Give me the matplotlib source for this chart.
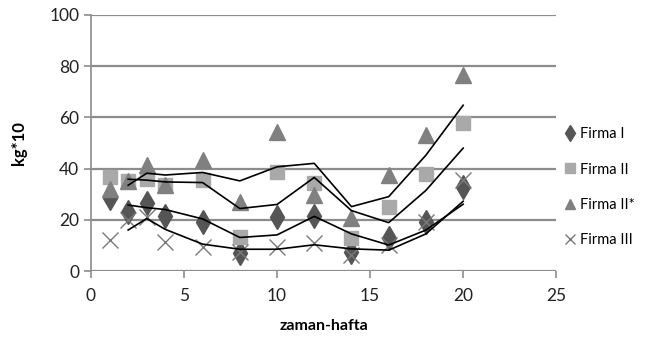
import numpy as np
import pandas as pd
import matplotlib.pyplot as plt

# weeks
weeks = [1, 2, 3, 4, 6, 8, 10, 12, 14, 16, 18, 20]

# values (kg*10)
firma_1 = [28.5, 23, 26.5, 21.5, 19.2, 7, 21.2, 21.5, 7.5, 12.8, 19.2, 33]
firma_2 = [36.7, 35, 36, 33.6, 35.5, 13.3, 38.7, 34.4, 12.8, 25, 38, 58]
firma_2s = [32, 35, 41.4, 33.6, 43.4, 27, 54.4, 29.7, 20.6, 37.5, 53, 76.5]
firma_3 = [12, 20, 21, 11.5, 9.5, 7.5, 9.5, 11, 6.3, 10, 19, 35.5]

labels = ["Firma I", "Firma II", "Firma II*", "Firma III"]

plt.rcParams['font.family'] = ['Lato', 'DejaVu Sans']

fig = plt.figure(figsize=(6.59, 3.63), dpi=100)
ax = fig.add_axes([0.138, 0.2534, 0.706, 0.7053])

series = [firma_1, firma_2, firma_2s, firma_3]
styles = [
    dict(marker='d', color='#555555', markersize=12, linestyle='none'),
    dict(marker='s', color='#a9a9a9', markersize=10, linestyle='none'),
    dict(marker='^', color='#808080', markersize=11, linestyle='none'),
    dict(marker='x', color='#7a7a7a', markersize=12, markeredgewidth=1.0, linestyle='none'),
]

for vals, lab, st in zip(series, labels, styles):
    ax.plot(weeks, vals, label=lab, **st)

# 2-period moving average trendlines
for vals in series:
    ma = pd.Series(vals).rolling(2).mean()
    ax.plot(weeks, ma, color='black', lw=1.2, zorder=3)

ax.set_xlim(0, 25)
ax.set_ylim(0, 100)
ax.set_xticks(np.arange(0, 26, 5))
ax.set_yticks(np.arange(0, 101, 20))
ax.yaxis.grid(True, color='#8c8c8c', lw=1.6)
ax.set_axisbelow(True)

for s in ['top', 'right', 'bottom']:
    ax.spines[s].set_visible(False)
ax.spines['left'].set_color('#8c8c8c')
ax.spines['left'].set_linewidth(1.2)
ax.tick_params(axis='both', colors='#8c8c8c', labelcolor='#222222', labelsize=12.5, length=5, width=1.2)
ax.tick_params(axis='x', pad=7)

ax.set_xlabel("zaman-hafta", fontsize=11.5, fontweight='bold', labelpad=11)
ax.set_ylabel("kg*10", fontsize=12, fontweight='bold', labelpad=16)

ax.legend(loc='upper left', bbox_to_anchor=(0.847, 0.665), bbox_transform=fig.transFigure,
          frameon=False, fontsize=10.5, labelspacing=1.45, handlelength=0.8,
          handletextpad=0.3, borderaxespad=0, markerscale=0.65)

fig.savefig("out.png", dpi=100)
